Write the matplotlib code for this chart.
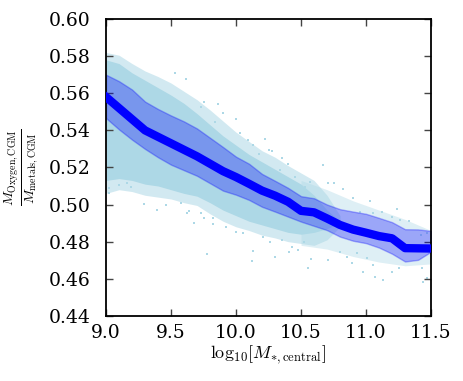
import numpy as np
import matplotlib
matplotlib.use('Agg')
import matplotlib.pyplot as plt

plt.rcParams['font.family'] = 'DejaVu Serif'
plt.rcParams['mathtext.fontset'] = 'cm'

# binned median and percentile band
bin_x = [9.0, 9.1, 9.2, 9.3, 9.4, 9.5, 9.6, 9.7, 9.8, 9.9, 10.0, 10.1, 10.2,
         10.3, 10.4, 10.5, 10.6, 10.7, 10.8, 10.9, 11.0, 11.1, 11.2, 11.3, 11.4, 11.5]
median = [0.558, 0.552, 0.546, 0.540, 0.5365, 0.533, 0.5295, 0.526, 0.522, 0.518,
          0.5148, 0.5112, 0.5075, 0.5048, 0.5015, 0.4966, 0.4958, 0.4925, 0.489,
          0.4865, 0.4848, 0.4830, 0.4818, 0.4765, 0.4764, 0.4763]
upper = [0.570, 0.5665, 0.562, 0.5555, 0.5515, 0.548, 0.5448, 0.541, 0.536, 0.531,
         0.5258, 0.522, 0.5165, 0.5128, 0.509, 0.5045, 0.5034, 0.500, 0.4975,
         0.4962, 0.495, 0.4928, 0.4905, 0.4867, 0.4866, 0.4858]
lower = [0.5466, 0.5405, 0.535, 0.530, 0.5255, 0.5215, 0.5185, 0.5155, 0.5115,
         0.5075, 0.5053, 0.5025, 0.4988, 0.4962, 0.4935, 0.4908, 0.4885, 0.4862,
         0.4827, 0.4805, 0.4792, 0.4768, 0.4735, 0.4693, 0.4702, 0.4746]

# outer extent of the galaxy cloud
cloud_x = [9.0, 9.1, 9.2, 9.3, 9.4, 9.5, 9.6, 9.7, 9.8, 9.9, 10.0, 10.1, 10.2,
           10.3, 10.4, 10.5, 10.6, 10.7, 10.8]
cloud_hi = [0.582, 0.5805, 0.576, 0.572, 0.569, 0.5655, 0.561, 0.5565, 0.551,
            0.545, 0.539, 0.534, 0.529, 0.5255, 0.521, 0.517, 0.513, 0.505, 0.494]
cloud_lo = [0.506, 0.508, 0.507, 0.505, 0.504, 0.503, 0.501, 0.4995, 0.495,
            0.491, 0.488, 0.486, 0.4835, 0.482, 0.480, 0.479, 0.478, 0.481, 0.488]
# the densest core of the cloud
core_hi = [0.578, 0.576, 0.571, 0.567, 0.563, 0.559, 0.5545, 0.549, 0.543,
           0.537, 0.532, 0.527, 0.523, 0.519, 0.515, 0.511, 0.505, 0.497, 0.491]
core_lo = [0.513, 0.514, 0.513, 0.511, 0.510, 0.508, 0.506, 0.5045, 0.501,
           0.497, 0.494, 0.491, 0.489, 0.487, 0.485, 0.484, 0.485, 0.487, 0.490]

# sparse tail of the cloud at high mass
sparse_x = [10.5, 10.7, 10.9, 11.1, 11.3, 11.5]
sparse_hi = [0.513, 0.508, 0.502, 0.497, 0.492, 0.486]
sparse_lo = [0.478, 0.476, 0.472, 0.469, 0.467, 0.468]

# individual stray galaxies
stray_x = [9.615, 9.53, 9.75, 9.73, 9.86, 9.9, 10.0, 9.84, 10.03, 10.22, 10.09,
           10.13, 10.28, 10.35, 10.4, 10.45, 10.57, 10.25, 10.18, 10.34, 10.53,
           10.67, 10.75, 10.71, 10.82, 10.9, 11.03, 11.12, 11.24, 11.26, 11.33,
           11.42, 11.47, 11.2, 11.05, 10.95,
           10.71, 10.85, 10.89, 10.98, 11.05, 11.07, 11.13, 11.2, 11.25, 10.8,
           10.93, 11.01, 11.43, 11.47, 11.44,
           9.1, 9.16, 9.19, 9.29, 9.39, 9.46, 9.58, 9.62, 9.68, 9.64, 9.78, 9.02,
           9.02, 9.73, 9.75,
           9.92, 10.0, 10.05, 10.13, 10.12, 10.3, 10.41, 10.48, 10.43, 10.58,
           10.55, 10.21, 10.26, 10.35, 10.52, 9.82, 9.82]
stray_y = [0.5677, 0.571, 0.5553, 0.5526, 0.5542, 0.5494, 0.5461, 0.5445, 0.5386,
           0.5354, 0.5348, 0.5321, 0.5289, 0.5251, 0.5219, 0.5149, 0.5122, 0.5294,
           0.5273, 0.5187, 0.5095,
           0.5213, 0.5117, 0.5117, 0.5084, 0.5036, 0.502, 0.496, 0.4976, 0.4917,
           0.4912, 0.4836, 0.4847, 0.4933, 0.4955, 0.496,
           0.4702, 0.4718, 0.4686, 0.4637, 0.4675, 0.461, 0.4594, 0.4637, 0.4659,
           0.4745, 0.4739, 0.4712, 0.4659, 0.4605, 0.4583,
           0.5106, 0.5117, 0.5095, 0.5003, 0.4971, 0.4998, 0.5009, 0.4955, 0.4901,
           0.4966, 0.4734, 0.509, 0.5063, 0.4955, 0.4928,
           0.488, 0.4853, 0.4847, 0.475, 0.4696, 0.4718, 0.4745, 0.4756, 0.4772,
           0.4707, 0.4659, 0.4826, 0.4799, 0.481, 0.4799, 0.4928, 0.4896]

xticks = [9.0, 9.5, 10.0, 10.5, 11.0, 11.5]
yticks = [0.44, 0.46, 0.48, 0.50, 0.52, 0.54, 0.56, 0.58, 0.60]

fig = plt.figure(figsize=(4.63, 3.81), dpi=100)
ax = fig.add_axes([0.229, 0.171, 0.702, 0.779])

ax.fill_between(cloud_x, cloud_lo, cloud_hi, color='lightblue', alpha=0.55,
                lw=0, zorder=1)
ax.fill_between(cloud_x, core_lo, core_hi, color='lightblue', lw=0, zorder=1)
ax.fill_between(sparse_x, sparse_lo, sparse_hi, color='lightblue', alpha=0.4,
                lw=0, zorder=1)
ax.scatter(stray_x, stray_y, s=4.5, c='lightblue', marker='s', lw=0, zorder=1)

ax.fill_between(bin_x, lower, upper, color='blue', alpha=0.3,
                edgecolor='blue', lw=1, zorder=2)
ax.plot(bin_x, median, color='blue', lw=6, zorder=3)

ax.set_xlim(9.0, 11.5)
ax.set_ylim(0.44, 0.60)
ax.set_xticks(xticks)
ax.set_yticks(yticks)
ax.set_xticklabels(['%.1f' % t for t in xticks])
ax.set_yticklabels(['%.2f' % t for t in yticks])
ax.tick_params(direction='in', length=5, width=1, color='#444444',
               top=True, right=True, labelsize=13.5)
ax.tick_params(axis='x', pad=6)
ax.tick_params(axis='y', pad=11)
for s in ax.spines.values():
    s.set_linewidth(1.3)

ax.set_xlabel(r'$\mathrm{log}_{10}\left[M_{*,\rm central}\right]$', fontsize=13,
              labelpad=1)
ax.set_ylabel(r'$\frac{M_{\rm Oxygen,CGM}}{M_{\rm metals,CGM}}$', fontsize=14.5,
              labelpad=6)

fig.savefig('out.png', dpi=100)
